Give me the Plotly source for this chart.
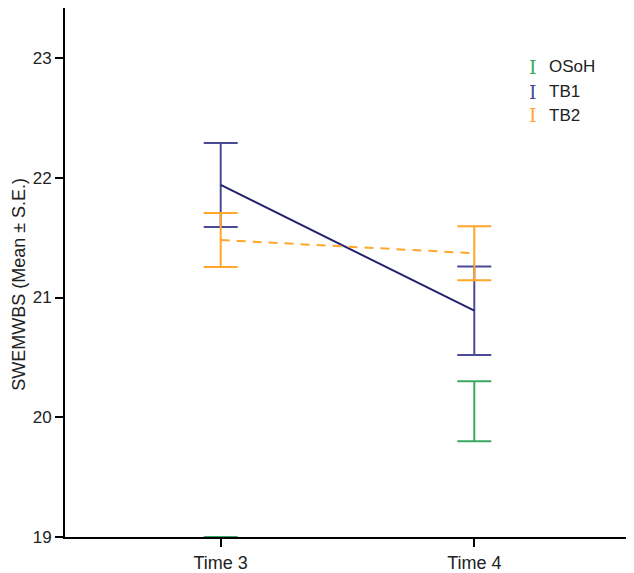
import plotly.graph_objects as go

categories = ["Time 3", "Time 4"]

osoh_mean = [18.6, 20.05]
osoh_se = [0.4, 0.25]

tb1_mean = [21.94, 20.89]
tb1_se = [0.35, 0.37]

tb2_mean = [21.48, 21.37]
tb2_se = [0.225, 0.225]

y_ticks = [19, 20, 21, 22, 23]
legend_labels = ["OSoH", "TB1", "TB2"]

green = "#3aa862"
navy_line = "#23236e"
navy_err = "#4a4a96"
orange = "#ffa62b"

font_family = "Liberation Sans, Arial, sans-serif"

fig = go.Figure()

fig.add_trace(go.Scatter(
    x=categories, y=osoh_mean, mode="markers",
    marker=dict(size=1, opacity=0),
    error_y=dict(type="data", array=osoh_se, visible=True, color=green, thickness=2, width=17),
    showlegend=False, cliponaxis=True,
))

fig.add_trace(go.Scatter(
    x=categories, y=tb1_mean, mode="lines",
    line=dict(color=navy_line, width=2),
    error_y=dict(type="data", array=tb1_se, visible=True, color=navy_err, thickness=2, width=17),
    showlegend=False,
))

fig.add_trace(go.Scatter(
    x=categories, y=tb2_mean, mode="lines",
    line=dict(color=orange, width=2, dash="9px,7px"),
    error_y=dict(type="data", array=tb2_se, visible=True, color=orange, thickness=2, width=17),
    showlegend=False,
))

# legend built from annotations
legend_colors = [green, navy_err, orange]
legend_y = [0.889, 0.842, 0.797]
for lab, col, yy in zip(legend_labels, legend_colors, legend_y):
    fig.add_annotation(x=0.828, y=yy, xref="paper", yref="paper", text="I",
                       showarrow=False, xanchor="center", yanchor="middle",
                       font=dict(family="DejaVu Serif, Liberation Serif, serif", size=19, color=col))
    fig.add_annotation(x=0.8525, y=yy, xref="paper", yref="paper", text=lab,
                       showarrow=False, xanchor="left", yanchor="middle",
                       font=dict(family=font_family, size=17, color="#222222"))

fig.add_annotation(x=-0.082, y=0.478, xref="paper", yref="paper",
                   text="SWEMWBS (Mean ± S.E.)", textangle=-90, showarrow=False,
                   xanchor="center", yanchor="middle",
                   font=dict(family=font_family, size=18, color="#222222"))

fig.update_layout(
    width=626, height=565,
    margin=dict(l=57, r=4, t=0, b=34, pad=0),
    paper_bgcolor="white", plot_bgcolor="white",
    font=dict(family=font_family, size=17, color="#222222"),
    xaxis=dict(
        type="category", range=[-0.614, 1.614],
        showgrid=False, zeroline=False,
        showline=True, linecolor="black", linewidth=2,
        ticks="outside", ticklen=8, tickcolor="black", tickwidth=1.5,
        tickfont=dict(size=18), layer="below traces",
    ),
    yaxis=dict(
        range=[19, 23.418], tickvals=y_ticks,
        showgrid=False, zeroline=False,
        showline=True, linecolor="black", linewidth=2,
        ticks="outside", ticklen=8, tickcolor="black", tickwidth=1.5,
        tickfont=dict(size=17), layer="below traces",
    ),
)

fig.write_html("out.html")
